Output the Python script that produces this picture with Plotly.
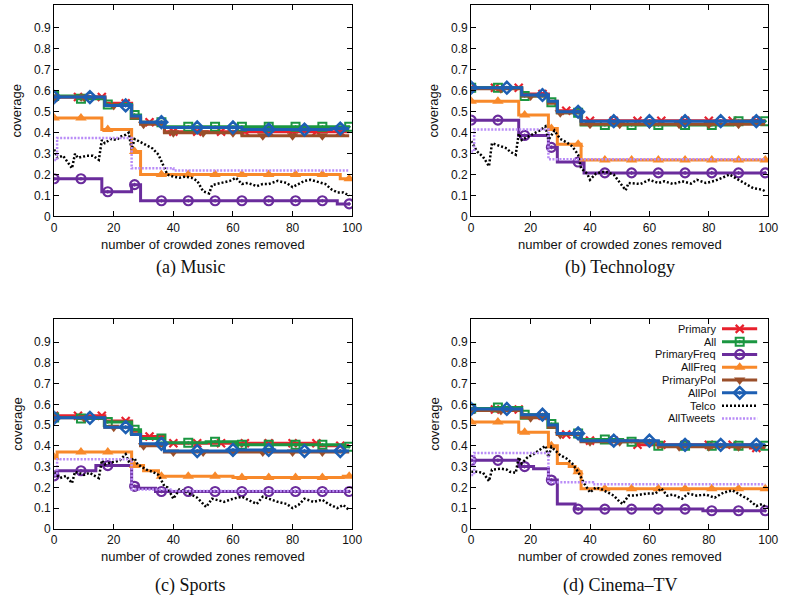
import numpy as np
import plotly.graph_objects as go

# ---------------- data (x = number of crowded zones removed, 0..99) ----------------
# Step-shaped series: change points (x) and the value held from that x onward.

# (a) Music
music_primary_x = [0, 17, 26, 29, 37, 99]
music_primary_y = [0.57, 0.54, 0.47, 0.45, 0.405, 0.405]
music_all_x = [0, 8, 17, 26, 29, 37, 99]
music_all_y = [0.575, 0.562, 0.535, 0.485, 0.45, 0.428, 0.428]
music_pfreq_x = [0, 16, 26, 29, 95, 99]
music_pfreq_y = [0.18, 0.118, 0.152, 0.075, 0.06, 0.06]
music_afreq_x = [0, 16, 26, 29, 96, 99]
music_afreq_y = [0.47, 0.415, 0.31, 0.2, 0.18, 0.18]
music_ppol_x = [0, 17, 26, 29, 37, 63, 99]
music_ppol_y = [0.57, 0.53, 0.47, 0.44, 0.40, 0.385, 0.385]
music_apol_x = [0, 17, 26, 29, 37, 63, 93, 99]
music_apol_y = [0.57, 0.53, 0.48, 0.45, 0.425, 0.415, 0.42, 0.42]
music_tweets_x = [0, 1, 26, 40, 99]
music_tweets_y = [0.27, 0.375, 0.23, 0.22, 0.22]
music_telco_x = [0, 1, 3, 6, 7, 8, 11, 13, 15, 16, 17, 19, 21, 22, 24, 25, 26, 27, 29, 31,
                 33, 35, 37, 38, 40, 42, 44, 46, 48, 50, 52, 53, 56, 59, 61, 63, 65, 68, 70, 72,
                 75, 78, 80, 82, 84, 86, 89, 91, 93, 95, 97, 99]
music_telco_y = [0.32, 0.28, 0.29, 0.23, 0.30, 0.28, 0.29, 0.29, 0.27, 0.365, 0.35, 0.37, 0.365, 0.38, 0.39, 0.40, 0.32, 0.37, 0.355, 0.34,
                 0.325, 0.295, 0.23, 0.20, 0.19, 0.185, 0.19, 0.185, 0.17, 0.12, 0.11, 0.15, 0.16, 0.17, 0.185, 0.155, 0.16, 0.145, 0.155, 0.155,
                 0.17, 0.16, 0.14, 0.155, 0.17, 0.175, 0.165, 0.155, 0.13, 0.115, 0.115, 0.10]

# (b) Technology
tech_primary_x = [0, 17, 26, 29, 37, 99]
tech_primary_y = [0.615, 0.585, 0.55, 0.505, 0.457, 0.457]
tech_all_x = [0, 17, 26, 29, 37, 88, 99]
tech_all_y = [0.615, 0.575, 0.545, 0.495, 0.437, 0.455, 0.455]
tech_pfreq_x = [0, 16, 26, 29, 38, 99]
tech_pfreq_y = [0.46, 0.387, 0.33, 0.26, 0.208, 0.208]
tech_afreq_x = [0, 16, 26, 29, 37, 99]
tech_afreq_y = [0.55, 0.485, 0.42, 0.345, 0.27, 0.27]
tech_ppol_x = [0, 17, 26, 29, 37, 99]
tech_ppol_y = [0.61, 0.575, 0.54, 0.495, 0.44, 0.44]
tech_apol_x = [0, 17, 26, 29, 37, 99]
tech_apol_y = [0.615, 0.58, 0.55, 0.50, 0.455, 0.455]
tech_tweets_x = [0, 1, 26, 99]
tech_tweets_y = [0.31, 0.415, 0.273, 0.273]
tech_telco_x = [0, 2, 4, 6, 7, 10, 12, 13, 15, 16, 17, 19, 21, 23, 25, 26, 28, 30, 32, 34,
                36, 37, 39, 40, 42, 45, 48, 50, 52, 53, 57, 60, 63, 65, 68, 71, 74, 76, 79, 82,
                85, 87, 90, 93, 95, 98, 99]
tech_telco_y = [0.36, 0.31, 0.285, 0.24, 0.35, 0.335, 0.325, 0.31, 0.295, 0.395, 0.365, 0.38, 0.395, 0.41, 0.43, 0.365, 0.41, 0.37, 0.355, 0.335,
                0.295, 0.23, 0.205, 0.175, 0.205, 0.215, 0.2, 0.165, 0.125, 0.16, 0.155, 0.175, 0.16, 0.168, 0.155, 0.168, 0.157, 0.175, 0.16, 0.17,
                0.19, 0.2, 0.175, 0.152, 0.135, 0.128, 0.12]

# (c) Sports
sports_primary_x = [0, 17, 26, 29, 37, 89, 99]
sports_primary_y = [0.545, 0.52, 0.47, 0.445, 0.412, 0.40, 0.40]
sports_all_x = [0, 8, 17, 26, 29, 37, 51, 61, 97, 99]
sports_all_y = [0.537, 0.532, 0.515, 0.478, 0.435, 0.415, 0.42, 0.405, 0.395, 0.395]
sports_pfreq_x = [0, 1, 14, 26, 28, 34, 99]
sports_pfreq_y = [0.255, 0.28, 0.305, 0.205, 0.195, 0.18, 0.18]
sports_afreq_x = [0, 1, 26, 30, 35, 60, 97, 99]
sports_afreq_y = [0.345, 0.37, 0.305, 0.28, 0.253, 0.247, 0.253, 0.253]
sports_ppol_x = [0, 17, 26, 29, 37, 99]
sports_ppol_y = [0.535, 0.49, 0.455, 0.40, 0.37, 0.37]
sports_apol_x = [0, 17, 26, 29, 37, 58, 74, 99]
sports_apol_y = [0.535, 0.49, 0.455, 0.41, 0.375, 0.38, 0.375, 0.375]
sports_tweets_x = [0, 1, 26, 39, 99]
sports_tweets_y = [0.26, 0.335, 0.19, 0.182, 0.182]
sports_telco_x = [0, 2, 4, 6, 7, 10, 12, 13, 15, 16, 17, 19, 21, 22, 24, 25, 27, 28, 31, 33,
                  35, 37, 38, 40, 42, 44, 46, 48, 50, 51, 53, 57, 60, 63, 65, 68, 70, 73, 75, 78,
                  80, 82, 84, 87, 90, 92, 95, 97, 99]
sports_telco_y = [0.27, 0.245, 0.255, 0.22, 0.275, 0.26, 0.27, 0.26, 0.245, 0.33, 0.31, 0.32, 0.325, 0.33, 0.36, 0.325, 0.34, 0.31, 0.285, 0.275,
                  0.26, 0.205, 0.2, 0.145, 0.19, 0.18, 0.165, 0.15, 0.12, 0.105, 0.145, 0.13, 0.145, 0.155, 0.14, 0.12, 0.155, 0.14, 0.13, 0.12,
                  0.1, 0.115, 0.145, 0.13, 0.14, 0.12, 0.1, 0.115, 0.09]

# (d) Cinema–TV
cinema_primary_x = [0, 17, 26, 29, 37, 56, 94, 99]
cinema_primary_y = [0.575, 0.545, 0.495, 0.455, 0.425, 0.405, 0.39, 0.39]
cinema_all_x = [0, 8, 17, 26, 29, 37, 51, 63, 99]
cinema_all_y = [0.58, 0.585, 0.55, 0.505, 0.46, 0.43, 0.42, 0.40, 0.40]
cinema_pfreq_x = [0, 16, 21, 26, 29, 35, 78, 99]
cinema_pfreq_y = [0.33, 0.30, 0.29, 0.235, 0.12, 0.095, 0.087, 0.087]
cinema_afreq_x = [0, 16, 26, 29, 33, 35, 37, 99]
cinema_afreq_y = [0.515, 0.465, 0.40, 0.315, 0.30, 0.275, 0.193, 0.193]
cinema_ppol_x = [0, 17, 26, 29, 37, 63, 99]
cinema_ppol_y = [0.57, 0.535, 0.49, 0.455, 0.42, 0.395, 0.395]
cinema_apol_x = [0, 17, 26, 29, 37, 63, 99]
cinema_apol_y = [0.578, 0.55, 0.50, 0.46, 0.425, 0.405, 0.405]
cinema_tweets_x = [0, 1, 26, 41, 99]
cinema_tweets_y = [0.26, 0.365, 0.225, 0.215, 0.215]
cinema_telco_x = [0, 2, 4, 6, 7, 10, 12, 13, 15, 16, 17, 19, 21, 23, 25, 26, 27, 30, 32, 34,
                  36, 38, 40, 42, 44, 46, 48, 50, 51, 53, 55, 59, 62, 64, 66, 68, 71, 73, 76, 79,
                  82, 85, 88, 91, 93, 96, 98, 99]
cinema_telco_y = [0.275, 0.275, 0.27, 0.23, 0.285, 0.29, 0.285, 0.275, 0.27, 0.345, 0.315, 0.345, 0.36, 0.38, 0.40, 0.345, 0.395, 0.355, 0.34, 0.315,
                  0.275, 0.22, 0.175, 0.2, 0.19, 0.175, 0.16, 0.13, 0.12, 0.16, 0.16, 0.17, 0.17, 0.195, 0.16, 0.165, 0.145, 0.17, 0.16, 0.165,
                  0.15, 0.175, 0.185, 0.16, 0.145, 0.11, 0.12, 0.105]

series_names = ["Primary", "All", "PrimaryFreq", "AllFreq", "PrimaryPol", "AllPol", "Telco", "AllTweets"]
panel_titles = ["(a) Music", "(b) Technology", "(c) Sports", "(d) Cinema\u2013TV"]
x_tick_vals = [0, 20, 40, 60, 80, 100]
y_tick_vals = [0, 0.1, 0.2, 0.3, 0.4, 0.5, 0.6, 0.7, 0.8, 0.9]
y_tick_text = ["0", "0.1", "0.2", "0.3", "0.4", "0.5", "0.6", "0.7", "0.8", "0.9"]

panels = [
    {"Primary": (music_primary_x, music_primary_y), "All": (music_all_x, music_all_y),
     "PrimaryFreq": (music_pfreq_x, music_pfreq_y), "AllFreq": (music_afreq_x, music_afreq_y),
     "PrimaryPol": (music_ppol_x, music_ppol_y), "AllPol": (music_apol_x, music_apol_y),
     "Telco": (music_telco_x, music_telco_y), "AllTweets": (music_tweets_x, music_tweets_y)},
    {"Primary": (tech_primary_x, tech_primary_y), "All": (tech_all_x, tech_all_y),
     "PrimaryFreq": (tech_pfreq_x, tech_pfreq_y), "AllFreq": (tech_afreq_x, tech_afreq_y),
     "PrimaryPol": (tech_ppol_x, tech_ppol_y), "AllPol": (tech_apol_x, tech_apol_y),
     "Telco": (tech_telco_x, tech_telco_y), "AllTweets": (tech_tweets_x, tech_tweets_y)},
    {"Primary": (sports_primary_x, sports_primary_y), "All": (sports_all_x, sports_all_y),
     "PrimaryFreq": (sports_pfreq_x, sports_pfreq_y), "AllFreq": (sports_afreq_x, sports_afreq_y),
     "PrimaryPol": (sports_ppol_x, sports_ppol_y), "AllPol": (sports_apol_x, sports_apol_y),
     "Telco": (sports_telco_x, sports_telco_y), "AllTweets": (sports_tweets_x, sports_tweets_y)},
    {"Primary": (cinema_primary_x, cinema_primary_y), "All": (cinema_all_x, cinema_all_y),
     "PrimaryFreq": (cinema_pfreq_x, cinema_pfreq_y), "AllFreq": (cinema_afreq_x, cinema_afreq_y),
     "PrimaryPol": (cinema_ppol_x, cinema_ppol_y), "AllPol": (cinema_apol_x, cinema_apol_y),
     "Telco": (cinema_telco_x, cinema_telco_y), "AllTweets": (cinema_tweets_x, cinema_tweets_y)},
]

# ---------------- styles ----------------
STYLE = {
    "Primary":     dict(color="#e8212d", symbol="x-thin", size=8, mlw=2.2, every=8, dash="solid", width=3),
    "All":         dict(color="#1b9641", symbol="square-open-dot", size=8, mlw=2.0, every=9, dash="solid", width=3),
    "PrimaryFreq": dict(color="#6a2c9c", symbol="circle-open-dot", size=9, mlw=2.2, every=9, dash="solid", width=3),
    "AllFreq":     dict(color="#f8892a", symbol="triangle-up", size=10, mlw=0, every=9, dash="solid", width=3),
    "PrimaryPol":  dict(color="#9a4f2a", symbol="triangle-down", size=10, mlw=0, every=10, dash="solid", width=3),
    "AllPol":      dict(color="#1d5fb3", symbol="diamond-open-dot", size=9, mlw=2.5, every=12, dash="solid", width=3),
    "Telco":       dict(color="#000000", symbol=None, dash="2px,2px", width=2.5),
    "AllTweets":   dict(color="#b98cf7", symbol=None, dash="2px,1.5px", width=2.5),
}

W, H = 792, 606
FONT = "Liberation Sans, Arial, sans-serif"
SERIF = "Liberation Serif, Times New Roman, serif"
TICK_SIZE = 12

# frame positions in pixels: (left, right, top, bottom)
frames = [(52, 355, 5, 219), (476, 778, 5, 219), (52, 355, 323, 535), (476, 778, 323, 535)]
caption_pos = [(191, 271), (627, 271), (191, 592), (627, 592)]

def step_at(xs, ys, q):
    idx = np.searchsorted(np.asarray(xs), np.asarray(q), side="right") - 1
    return np.asarray(ys)[idx]

fig = go.Figure()
layout = dict(width=W, height=H, margin=dict(l=0, r=0, t=0, b=0),
              paper_bgcolor="white", plot_bgcolor="white", showlegend=False,
              font=dict(family=FONT, size=TICK_SIZE, color="#111"))
annotations = []

for p, data in enumerate(panels):
    n = p + 1
    xa = "x" if n == 1 else f"x{n}"
    ya = "y" if n == 1 else f"y{n}"
    l, r, t, b = frames[p]
    layout["xaxis" if n == 1 else f"xaxis{n}"] = dict(
        domain=[l / W, r / W], range=[0, 100], tickvals=x_tick_vals, anchor=ya,
        ticks="inside", ticklen=5, tickwidth=1, tickcolor="black", mirror="ticks",
        showline=True, linecolor="black", linewidth=1, showgrid=False, zeroline=False,
        tickfont=dict(family=FONT, size=TICK_SIZE, color="#111"))
    layout["yaxis" if n == 1 else f"yaxis{n}"] = dict(
        domain=[1 - b / H, 1 - t / H], range=[0, 1.01], tickvals=y_tick_vals, ticktext=y_tick_text,
        anchor=xa, ticks="inside", ticklen=5, tickwidth=1, tickcolor="black", mirror="ticks",
        showline=True, linecolor="black", linewidth=1, showgrid=False, zeroline=False,
        tickfont=dict(family=FONT, size=TICK_SIZE, color="#111"))

    for name in series_names:
        st = STYLE[name]
        xs, ys = data[name]
        is_step = name != "Telco"
        fig.add_trace(go.Scatter(
            x=xs, y=ys, mode="lines", xaxis=xa, yaxis=ya, name=name,
            line=dict(color=st["color"], width=st["width"], dash=st["dash"],
                      shape="hv" if is_step else "linear"),
            hoverinfo="skip"))
        if st["symbol"]:
            mx = list(range(0, 100, st["every"]))
            my = step_at(xs, ys, mx)
            fig.add_trace(go.Scatter(
                x=mx, y=my, mode="markers", xaxis=xa, yaxis=ya, name=name,
                marker=dict(symbol=st["symbol"], size=st["size"], color=st["color"],
                            line=dict(color=st["color"], width=st["mlw"])),
                hoverinfo="skip"))

    # axis titles
    annotations.append(dict(text="coverage", xref="paper", yref="paper",
                            x=(l - 38) / W, y=1 - ((t + b) / 2) / H, textangle=-90,
                            showarrow=False, xanchor="center", yanchor="middle",
                            font=dict(family=FONT, size=13, color="#111")))
    annotations.append(dict(text="number of crowded zones removed", xref="paper", yref="paper",
                            x=((l + r) / 2) / W, y=1 - (b + 28) / H,
                            showarrow=False, xanchor="center", yanchor="middle",
                            font=dict(family=FONT, size=13, color="#111")))
    cx, cy = caption_pos[p]
    annotations.append(dict(text=panel_titles[p], xref="paper", yref="paper",
                            x=cx / W, y=1 - cy / H, showarrow=False,
                            xanchor="center", yanchor="middle",
                            font=dict(family=SERIF, size=18, color="#111")))

# ---------------- key (inside panel d, gnuplot style: text then sample) ----------------
key_top, key_step = 332.7, 12.95
key_l, key_r, key_text_r = 731, 767, 727
dom_top, dom_bot = 326, 430
r_top = (dom_top - key_top) / key_step
r_bot = (dom_bot - key_top) / key_step
layout["xaxis5"] = dict(domain=[key_l / W, key_r / W], range=[0, 1], visible=False, anchor="y5", fixedrange=True)
layout["yaxis5"] = dict(domain=[1 - dom_bot / H, 1 - dom_top / H], range=[r_bot, r_top], visible=False,
                        anchor="x5", fixedrange=True)
for i, name in enumerate(series_names):
    st = STYLE[name]
    fig.add_trace(go.Scatter(x=[0, 1], y=[i, i], mode="lines", xaxis="x5", yaxis="y5",
                             line=dict(color=st["color"], width=st["width"], dash=st["dash"]),
                             hoverinfo="skip"))
    if st["symbol"]:
        fig.add_trace(go.Scatter(x=[0.5], y=[i], mode="markers", xaxis="x5", yaxis="y5",
                                 marker=dict(symbol=st["symbol"], size=st["size"], color=st["color"],
                                             line=dict(color=st["color"], width=st["mlw"])),
                                 hoverinfo="skip"))
    annotations.append(dict(text=name, xref="paper", yref="y5", x=key_text_r / W, y=i,
                            xanchor="right", yanchor="middle", showarrow=False,
                            font=dict(family=FONT, size=11, color="#111")))

layout["annotations"] = annotations
fig.update_layout(**layout)
fig.write_html("out.html")
